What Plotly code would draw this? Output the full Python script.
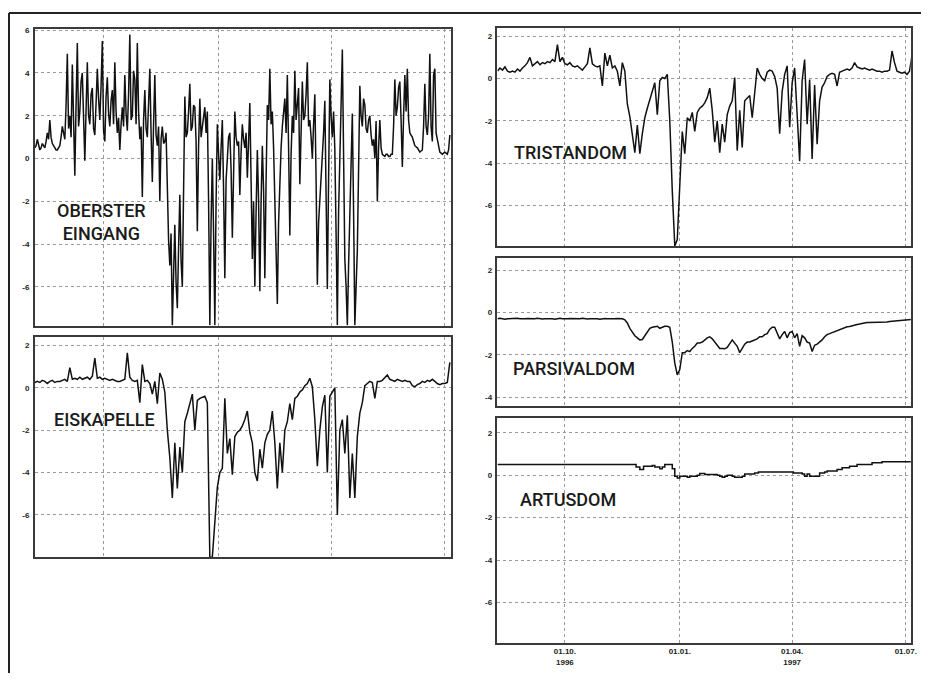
import numpy as np
import pandas as pd
import plotly.graph_objects as go

# ---------------- data ----------------
LEFT_START = "1996-08-07"
RIGHT_START = "1996-08-08"
OE_STEP_DAYS = 1
STEP_DAYS = 2

OBERSTER_EINGANG = [
    0.5, 0.6, 0.9, 0.6, 0.4, 0.5, 0.7, 0.6, 0.5, 0.8,
    1.2, 0.9, 1.8, 1.0, 0.7, 0.6, 0.5, 0.4, 0.4, 0.5,
    0.6, 1.0, 1.5, 1.2, 0.9, 2.5, 4.9, 1.4, 2.0, 1.0,
    4.4, 1.8, -0.8, 2.5, 5.4, 1.5, 2.2, 3.6, 4.0, 1.9,
    -0.1, 2.3, 4.5, 2.0, 1.6, 3.0, 3.3, 1.4, 1.1, 2.6,
    4.2, 2.8, 1.8, 3.4, 5.5, 1.3, 0.8, 2.9, 3.8, 2.1,
    1.5, 2.7, 3.2, 1.6, 4.5, 2.2, 1.2, 1.9, 0.4, 1.6,
    2.4, 1.5, 3.9, 2.1, 1.3, 3.0, 5.8, 1.8, 2.0, 4.1,
    3.7, 1.6, 5.4, 2.2, 0.9, 1.5, -1.8, 1.8, 3.2, 1.4,
    1.0, 2.6, 4.2, 1.2, -1.1, 1.6, 3.9, 1.1, 0.6, 1.5,
    -2.0, 0.9, 1.5, 0.7, 0.8, 1.2, -1.9, -3.8, -5.0, -3.5,
    -7.8, -4.6, -3.1, -5.8, -7.0, -4.2, -1.7, -4.8, -6.0, -1.5,
    2.9, 1.0, 1.2, 2.2, 3.5, 1.3, 1.5, 2.5, 2.4, 0.8,
    -3.4, 0.6, 2.8, 1.0, 1.4, 2.0, 2.4, 1.2, 2.2, -2.0,
    -7.8, -3.0, 0.0, -3.5, -7.8, -2.0, 1.6, 0.2, -1.0, 0.5,
    1.8, -1.5, -5.6, -1.0, 0.4, 1.0, 1.2, -0.5, -3.7, 0.0,
    2.2, 1.0, 0.6, 0.8, -1.7, 0.3, 1.6, 0.9, 0.5, 1.2,
    -0.9, 0.8, 2.6, -1.0, -4.7, -2.0, -6.0, -2.5, 0.4, -2.0,
    -6.2, -2.0, 0.6, -1.5, -5.6, -1.0, 2.5, 1.8, 4.2, 1.6,
    2.2, 0.5, -2.3, -4.5, -6.8, -3.0, -0.8, 0.5, 1.5, 2.0,
    2.8, 1.2, 3.9, 0.5, -3.6, 0.2, 2.0, 1.2, 4.1, 1.8,
    2.6, 3.3, -1.2, 1.5, 3.6, 1.8, 2.0, 3.0, 4.5, 1.5,
    1.8, 1.0, 0.0, 1.6, 3.0, -1.0, -5.9, -3.0, -2.0, -1.0,
    -0.3, 1.2, 2.7, -1.5, -6.1, -1.0, 3.7, 2.0, 1.0, 2.2,
    0.4, -3.5, -7.8, -2.5, 0.8, 2.5, 5.1, 0.0, -4.7, -6.0,
    -7.8, -5.0, -2.8, -0.5, 2.1, -2.5, -7.8, -6.0, -4.3, -0.5,
    3.4, 2.0, 1.5, 2.8, 2.5, 1.4, 1.2, 1.8, 2.0, 1.1,
    0.6, 0.9, 0.0, 1.75, -2.0, 0.5, 1.8, 0.5, 0.2, 0.15,
    0.1, 0.2, 0.2, 0.1, 0.1, 0.2, 0.2, 1.5, 3.7, 2.0,
    2.4, 3.3, 3.6, 1.8, -0.4, 2.0, 3.9, 2.2, 4.2, 1.8,
    1.2, 1.1, 1.0, 0.8, 0.6, 0.55, 0.5, 0.4, 0.3, 0.35,
    0.4, 1.5, 3.5, 1.5, 1.1, 2.0, 4.9, 1.5, 0.8, 3.9,
    4.2, 1.2, 0.9, 0.5, 0.3, 0.25, 0.2, 0.25, 0.3, 0.25,
    0.2, 0.4, 1.1,
]

EISKAPELLE = [
    0.25, 0.3, 0.25, 0.35, 0.3, 0.2, 0.3, 0.35, 0.25, 0.3,
    0.3, 0.35, 0.4, 0.3, 0.95, 0.4, 0.45, 0.4, 0.5, 0.4,
    0.45, 0.5, 0.4, 0.55, 1.4, 0.45, 0.5, 0.4, 0.45, 0.4,
    0.35, 0.4, 0.35, 0.3, 0.3, 0.35, 0.4, 1.65, 0.5, 0.35,
    0.3, 0.35, -0.7, 1.1, 0.3, 0.35, 0.2, -0.3, 0.3, -0.75,
    0.7, 0.4, -0.2, -2.0, -3.3, -5.2, -2.6, -4.75, -2.8, -4.0,
    -1.6, -1.2, -0.8, -0.3, -2.0, -0.6, -0.5, -0.45, -0.4, -0.7,
    -8.0, -8.0, -6.3, -4.7, -4.0, -3.8, -0.5, -3.1, -2.4, -4.1,
    -2.3, -2.1, -2.0, -1.8, -1.5, -1.1, -2.1, -2.6, -4.0, -4.4,
    -2.9, -3.8, -2.6, -2.2, -2.0, -1.1, -2.6, -4.75, -2.6, -4.0,
    -2.0, -1.6, -0.75, -1.5, -0.5, -0.4, -0.2, -0.1, 0.1, 0.2,
    0.45, 0.05, -1.5, -3.7, -2.0, -0.9, -0.35, -4.0, -0.4, -0.2,
    0.0, -6.0, -2.0, -1.5, -3.1, -1.3, -5.2, -3.1, -5.2, -2.3,
    -1.2, -0.7, 0.1, 0.2, 0.3, 0.25, -0.5, 0.3, 0.3, 0.35,
    0.5, 0.6, 0.4, 0.35, 0.3, 0.4, 0.35, 0.3, 0.35, 0.3,
    0.3, 0.1, 0.05, 0.15, 0.2, 0.3, 0.25, 0.35, 0.3, 0.4,
    0.3, 0.2, 0.15, 0.2, 0.2, 0.25, 1.2,
]

TRISTANDOM = [
    0.35, 0.5, 0.4, 0.55, 0.35, 0.3, 0.35, 0.3, 0.45, 0.35,
    0.5, 0.6, 0.75, 1.0, 0.6, 0.7, 0.8, 0.65, 0.75, 0.7,
    0.8, 0.75, 0.9, 0.8, 1.6, 0.8, 1.0, 0.7, 0.65, 0.75,
    0.6, 0.55, 0.6, 0.5, 0.4, 0.55, 0.7, 1.45, 0.7, 0.6,
    0.55, 0.6, -0.35, 1.2, 0.6, 1.1, 0.5, 0.6, 0.35, -0.35,
    0.75, 0.35, -1.2, -1.8, -2.6, -3.5, -2.2, -3.55, -2.6, -1.85,
    -1.4, -1.0, -0.6, -0.2, -1.7, -0.1, 0.05, 0.0, 0.2, -2.0,
    -5.3, -7.9, -7.6, -5.3, -2.5, -3.55, -1.85, -2.0, -1.6, -2.5,
    -1.6, -1.4, -1.3, -1.15, -0.9, -0.45, -1.5, -3.0, -2.0, -3.5,
    -2.15, -3.0, -1.7, -1.3, -1.05, 0.05, -3.4, -1.5, -3.25, -1.05,
    -0.9, -0.8, -1.85, -0.6, 0.5, 0.2, 0.0, -0.1, 0.3, 0.4,
    0.35, 0.1, -0.45, -2.6, -0.6, 0.2, 0.6, -2.3, -0.2, 0.5,
    -1.85, -3.9, -0.1, 0.9, -2.15, -0.05, -3.8, -0.3, -3.1, -1.05,
    -0.4, -0.2, 0.1, 0.2, 0.25, 0.2, -0.35, 0.3, 0.35, 0.4,
    0.45, 0.4, 0.5, 0.75, 0.55, 0.5, 0.45, 0.5, 0.45, 0.4,
    0.45, 0.4, 0.35, 0.35, 0.3, 0.35, 0.35, 0.4, 1.3, 0.75,
    0.35, 0.3, 0.25, 0.3, 0.2, 0.35, 1.1,
]

PARSIVALDOM = [
    -0.3, -0.28, -0.3, -0.32, -0.3, -0.29, -0.31, -0.3, -0.28, -0.3,
    -0.31, -0.3, -0.29, -0.3, -0.32, -0.3, -0.28, -0.3, -0.31, -0.3,
    -0.29, -0.3, -0.3, -0.32, -0.3, -0.28, -0.3, -0.31, -0.3, -0.29,
    -0.3, -0.3, -0.32, -0.3, -0.28, -0.3, -0.31, -0.3, -0.29, -0.3,
    -0.3, -0.32, -0.3, -0.29, -0.3, -0.31, -0.3, -0.3, -0.29, -0.3,
    -0.3, -0.35, -0.5, -0.75, -0.95, -1.1, -1.2, -1.3, -1.28, -1.1,
    -0.9, -0.75, -0.7, -0.66, -0.65, -0.75, -0.68, -0.65, -0.65, -0.7,
    -1.4, -2.4, -2.95, -2.7, -1.9, -1.9, -1.8, -1.85, -1.7, -1.6,
    -1.45, -1.45, -1.4, -1.3, -1.2, -1.15, -1.25, -1.4, -1.55, -1.7,
    -1.7, -1.72, -1.65, -1.5, -1.3, -1.45, -1.6, -1.9, -1.7, -1.5,
    -1.4, -1.4, -1.35, -1.3, -1.25, -1.15, -1.15, -1.05, -1.0, -0.8,
    -0.7, -0.7, -1.0, -1.25, -1.05, -0.9, -1.2, -0.95, -0.9, -1.2,
    -1.0, -1.6, -1.1, -1.2, -1.4, -1.45, -1.85, -1.55, -1.5, -1.4,
    -1.3, -1.15, -1.05, -1.0, -0.95, -0.9, -0.85, -0.8, -0.75, -0.72,
    -0.68, -0.66, -0.62, -0.6, -0.57, -0.55, -0.52, -0.5, -0.48, -0.47,
    -0.47, -0.46, -0.47, -0.46, -0.45, -0.46, -0.45, -0.43, -0.42, -0.4,
    -0.4, -0.39, -0.38, -0.36, -0.35, -0.34, -0.33,
]

ARTUSDOM_DAY = [0, 111, 114, 117, 124, 126, 130, 132, 134, 140,
                142, 144, 146, 152, 154, 160, 162, 166, 176, 178,
                180, 182, 184, 188, 190, 196, 198, 206, 209, 237,
                244, 246, 248, 250, 258, 262, 264, 272, 276, 282,
                288, 300, 308, 333]
ARTUSDOM = [0.5, 0.38, 0.27, 0.42, 0.45, 0.38, 0.3, 0.38, 0.5, 0.3,
            -0.05, -0.13, -0.05, -0.1, -0.05, 0.0, 0.08, 0.03, 0.0, -0.05,
            -0.1, -0.05, 0.0, -0.05, -0.1, -0.05, 0.06, 0.1, 0.15, 0.1,
            0.05, -0.05, 0.05, -0.05, 0.1, 0.15, 0.2, 0.27, 0.35, 0.42,
            0.5, 0.58, 0.63, 0.63]

TICK_DATES = ["1996-10-01", "1997-01-01", "1997-04-01", "1997-07-01"]
TICK_TEXT = ["01.10.<br>1996", "01.01.", "01.04.<br>1997", "01.07."]

# ---------------- layout helpers ----------------
OFF = 8               # page body margin of the html page
W, H = 935 - 2 * OFF, 681 - 2 * OFF


def px_x(px):
    return (px - OFF) / W


def px_y(py):
    return 1 - (py - OFF) / H


def to_dates(start, days):
    return pd.Timestamp(start) + pd.to_timedelta(np.asarray(days, dtype=float), unit="D")


def grid_days(values, step):
    return np.arange(len(values)) * step


LEFT_X = [px_x(35), px_x(454)]
RIGHT_X = [px_x(500.7), px_x(916.7)]
LEFT_RANGE = ["1996-08-07", "1997-07-06"]
RIGHT_RANGE = ["1996-08-08", "1997-07-05"]

panels = [
    dict(vals=OBERSTER_EINGANG, days=grid_days(OBERSTER_EINGANG, OE_STEP_DAYS), start=LEFT_START,
         xdom=LEFT_X, xr=LEFT_RANGE, ydom=[px_y(324), px_y(26)], yr=[-7.81, 6.06],
         ticks=[6, 4, 2, 0, -2, -4, -6], label=("OBERSTER<br>EINGANG", 0.161, 0.348),
         shape="linear", xlabels=False),
    dict(vals=EISKAPELLE, days=grid_days(EISKAPELLE, STEP_DAYS), start=LEFT_START,
         xdom=LEFT_X, xr=LEFT_RANGE, ydom=[px_y(556.7), px_y(335)], yr=[-8.0, 2.42],
         ticks=[2, 0, -2, -4, -6], label=("EISKAPELLE", 0.167, 0.624),
         shape="linear", xlabels=False),
    dict(vals=TRISTANDOM, days=grid_days(TRISTANDOM, STEP_DAYS), start=RIGHT_START,
         xdom=RIGHT_X, xr=RIGHT_RANGE, ydom=[px_y(244), px_y(25)], yr=[-7.9, 2.39],
         ticks=[2, 0, -2, -4, -6], label=("TRISTANDOM", 0.177, 0.427),
         shape="linear", xlabels=False),
    dict(vals=PARSIVALDOM, days=grid_days(PARSIVALDOM, STEP_DAYS), start=RIGHT_START,
         xdom=RIGHT_X, xr=RIGHT_RANGE, ydom=[px_y(404.3), px_y(256)], yr=[-4.4, 2.58],
         ticks=[2, 0, -2, -4], label=("PARSIVALDOM", 0.186, 0.252),
         shape="linear", xlabels=False),
    dict(vals=ARTUSDOM, days=ARTUSDOM_DAY, start=RIGHT_START,
         xdom=RIGHT_X, xr=RIGHT_RANGE, ydom=[px_y(642.7), px_y(416.7)], yr=[-7.9, 2.7],
         ticks=[2, 0, -2, -4, -6], label=("ARTUSDOM", 0.171, 0.638),
         shape="hv", xlabels=True),
]

LINE_COLOR = "#111111"
GRID_COLOR = "#9a9a9a"
FRAME_COLOR = "#3a3a3a"
LABEL_FONT = "Roboto, Liberation Sans, Arial, sans-serif"
TICK_FONT = dict(family="Liberation Sans, Arial, sans-serif", size=8, color="#222", weight="bold")

fig = go.Figure()
layout = dict(
    width=W, height=H,
    margin=dict(l=0, r=0, t=0, b=0),
    paper_bgcolor="white", plot_bgcolor="white",
    showlegend=False,
    annotations=[], shapes=[],
)

for i, p in enumerate(panels, start=1):
    sfx = "" if i == 1 else str(i)
    fig.add_trace(go.Scatter(
        x=to_dates(p["start"], p["days"]), y=p["vals"],
        mode="lines", line=dict(color=LINE_COLOR, width=1.5, shape=p["shape"]),
        xaxis="x" + sfx, yaxis="y" + sfx, hoverinfo="skip",
    ))
    layout["xaxis" + sfx] = dict(
        domain=p["xdom"], anchor="y" + sfx, type="date", range=p["xr"],
        tickmode="array", tickvals=TICK_DATES, ticktext=TICK_TEXT,
        showticklabels=p["xlabels"], tickfont=TICK_FONT, ticks="",
        showgrid=True, gridcolor=GRID_COLOR, gridwidth=1, griddash="dot",
        showline=True, linecolor=FRAME_COLOR, linewidth=1.5, mirror=True,
        zeroline=False, fixedrange=True,
    )
    layout["yaxis" + sfx] = dict(
        domain=p["ydom"], anchor="x" + sfx, range=p["yr"],
        tickmode="array", tickvals=p["ticks"], ticktext=[str(t) for t in p["ticks"]],
        tickfont=TICK_FONT, ticks="", ticklabelstandoff=2,
        showgrid=True, gridcolor=GRID_COLOR, gridwidth=1, griddash="3px,3px",
        showline=True, linecolor=FRAME_COLOR, linewidth=1.5, mirror=True,
        zeroline=False, fixedrange=True,
    )
    text, ax, ay = p["label"]
    layout["annotations"].append(dict(
        text=text, x=ax, y=ay, xref="x" + sfx + " domain", yref="y" + sfx + " domain",
        xanchor="center", yanchor="middle", showarrow=False,
        font=dict(family=LABEL_FONT, size=18, color="#1a1a1a", weight=500),
    ))

# outer frame of the figure (top and left border)
layout["shapes"].append(dict(type="line", xref="paper", yref="paper",
                             x0=px_x(9), x1=1.0, y0=px_y(10), y1=px_y(10),
                             line=dict(color="#222", width=2)))
layout["shapes"].append(dict(type="line", xref="paper", yref="paper",
                             x0=px_x(9), x1=px_x(9), y0=0.0, y1=px_y(10),
                             line=dict(color="#222", width=2)))

fig.update_layout(**layout)
fig.write_html("out.html", config={"displayModeBar": False})
